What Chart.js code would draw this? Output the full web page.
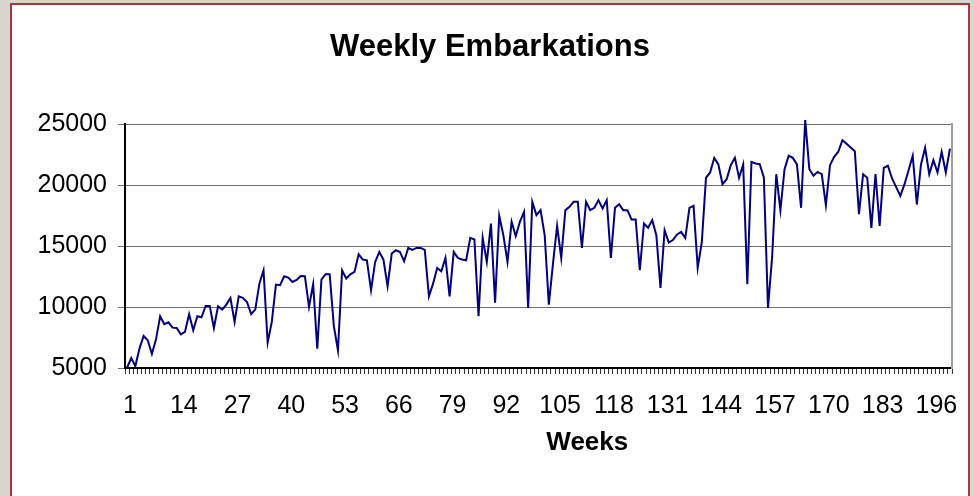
<!DOCTYPE html>
<html>
<head>
<meta charset="utf-8">
<title>Weekly Embarkations</title>
<script src="https://cdn.jsdelivr.net/npm/chart.js@4.4.0/dist/chart.umd.min.js"></script>
<style>
  html, body { margin: 0; padding: 0; }
  body { width: 974px; height: 496px; overflow: hidden; background: #d9d5d1; }
  #box { position: absolute; left: 10px; top: 3px; width: 956px; height: 520px;
         border: 2px solid #a33a3a; background: #fff; }
  #wrap { position: relative; width: 956px; height: 491px; }
</style>
</head>
<body>
<div id="box"><div id="wrap"><canvas id="embarkChart"></canvas></div></div>
<script>
// weekly embarkations (weeks 1..200)
const embarkations = [
  5030, 5820, 5160, 6590, 7630, 7270, 6150, 7350, 9240, 8590, 8750, 8310, 8280, 7760, 7960, 9410, 8090, 9240, 9160, 10090,
  10090, 8280, 10060, 9790, 10200, 10750, 8780, 10880, 10750, 10420, 9430, 9790, 11920, 13020, 7080, 8780, 11840, 11790, 12530, 12420,
  12060, 12230, 12550, 12530, 10010, 11870, 6590, 12250, 12690, 12690, 8450, 6450, 13020, 12340, 12690, 12880, 14330, 13900, 13840, 11380,
  13700, 14520, 13900, 11710, 14390, 14660, 14520, 13760, 14850, 14690, 14850, 14850, 14690, 10880, 11920, 13210, 12940, 14030, 10880, 14520,
  14030, 13900, 13840, 15670, 15540, 9240, 15670, 13700, 16850, 10360, 17480, 15890, 13700, 16990, 15810, 16990, 17810, 9930, 18630, 17540,
  17950, 15890, 10200, 13570, 16660, 14030, 17950, 18220, 18630, 18630, 14850, 18630, 17950, 18140, 18770, 18080, 18770, 14030, 18140, 18440,
  17950, 17950, 17180, 17180, 13020, 16850, 16500, 17130, 15890, 11570, 16300, 15290, 15500, 15950, 16170, 15670, 18140, 18300, 13210, 15350,
  20600, 21040, 22240, 21700, 20080, 20490, 21640, 22240, 20600, 21700, 11870, 21910, 21780, 21720, 20630, 9930, 14110, 20900, 17950, 21310,
  22410, 22240, 21700, 18140, 25340, 21310, 20770, 21090, 20900, 18360, 21640, 22330, 22740, 23690, 23390, 23090, 22790, 17620, 20900, 20600,
  16500, 20900, 16660, 21420, 21590, 20550, 19840, 19120, 20060, 21230, 22410, 18410, 21700, 23060, 20900, 22050, 21040, 22740, 21040, 22990
];
const weeks = embarkations.map((_, i) => String(i + 1));
const yMin = 5000;
const yMax = 25000;
const yStep = 5000;
const labelEvery = 13;

Chart.defaults.font.family = '"Liberation Sans", Arial, sans-serif';
Chart.defaults.color = '#000';

// "Weeks" sits a bit right of centre in the original
const weeksTitle = {
  id: 'weeksTitle',
  afterDraw(chart) {
    const { ctx, chartArea } = chart;
    ctx.save();
    ctx.font = 'bold 26px "Liberation Sans", Arial, sans-serif';
    ctx.fillStyle = '#000';
    ctx.textAlign = 'center';
    ctx.textBaseline = 'middle';
    ctx.fillText('Weeks', chartArea.left + chartArea.width * 0.559, chartArea.bottom + 75);
    ctx.restore();
  }
};

const ctx = document.getElementById('embarkChart').getContext('2d');
new Chart(ctx, {
  type: 'line',
  data: {
    labels: weeks,
    datasets: [{
      label: 'Embarkations',
      data: embarkations,
      borderColor: '#000080',
      borderWidth: 2,
      pointRadius: 0,
      tension: 0,
      fill: false,
      clip: false
    }]
  },
  options: {
    responsive: true,
    maintainAspectRatio: false,
    animation: false,
    layout: { padding: 0 },
    plugins: {
      legend: { display: false },
      tooltip: { enabled: false },
      title: {
        display: true,
        text: 'Weekly Embarkations',
        color: '#000',
        font: { size: 31, weight: 'bold' },
        padding: { top: 24, bottom: 58 }
      }
    },
    scales: {
      x: {
        offset: true,
        grid: { offset: true, drawOnChartArea: false, tickLength: 6, color: '#333' },
        border: { color: '#000', width: 2 },
        ticks: {
          autoSkip: false,
          maxRotation: 0,
          font: { size: 25 },
          padding: 17,
          labelOffset: 3,
          callback: (v, i) => (i % labelEvery === 0 ? weeks[i] : '')
        },
        afterFit: s => { s.height = 128; }
      },
      y: {
        min: yMin,
        max: yMax,
        ticks: { stepSize: yStep, font: { size: 25 }, padding: 11, callback: v => String(v) },
        grid: { color: '#707070', tickLength: 7 },
        border: { color: '#000', width: 2 },
        afterFit: s => { s.width = 113; }
      },
      yRight: {
        position: 'right',
        min: yMin,
        max: yMax,
        ticks: { display: false },
        grid: { drawOnChartArea: false, drawTicks: false },
        border: { color: '#a0a0a0', width: 2 },
        afterFit: s => { s.width = 16; }
      }
    }
  },
  plugins: [weeksTitle]
});
</script>
</body>
</html>
